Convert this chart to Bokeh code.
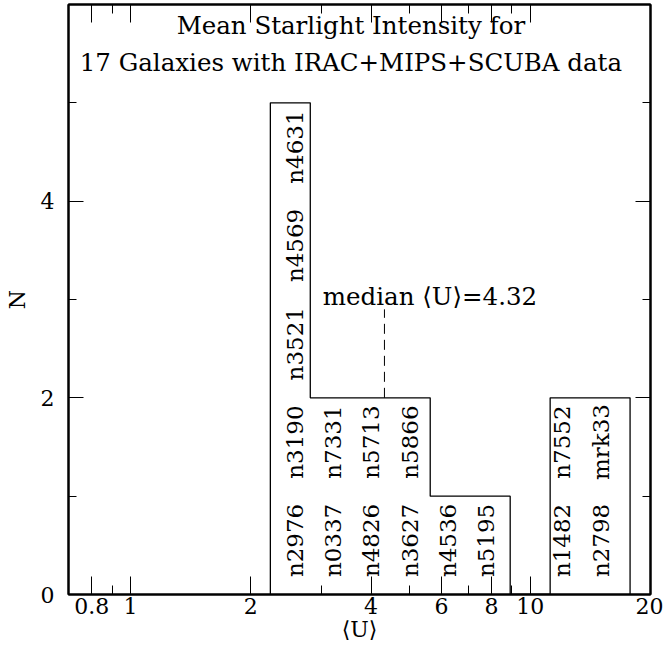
import numpy as np
from bokeh.plotting import figure
from bokeh.models import FixedTicker, LinearAxis, LogAxis, Label, ColumnDataSource
from bokeh.embed import file_html
from bokeh.resources import INLINE

# histogram of <U>, bins 0.1 dex wide
bin_edges = [2.239, 2.818, 3.548, 4.467, 5.623, 7.079, 8.913, 11.22, 14.13, 17.78]
counts = [5, 2, 2, 2, 1, 1, 0, 2, 2]
galaxies = [
    ["n2976", "n3190", "n3521", "n4569", "n4631"],
    ["n0337", "n7331"],
    ["n4826", "n5713"],
    ["n3627", "n5866"],
    ["n4536"],
    ["n5195"],
    [],
    ["n1482", "n7552"],
    ["n2798", "mrk33"],
]
median_U = 4.32

x_major = [0.8, 1, 2, 4, 6, 8, 10, 20]
x_minor = [0.9, 3, 5, 7, 9]
y_major = [0, 2, 4]
y_minor = [1, 3, 5]

title_lines = ["Mean Starlight Intensity for",
               "17 Galaxies with IRAC+MIPS+SCUBA data"]

FONT = "DejaVu Serif"
FS = "22px"

p = figure(width=663, height=659, x_axis_type="log",
           x_range=(0.7, 20), y_range=(0, 6),
           output_backend="svg", toolbar_location=None,
           min_border_left=68, min_border_right=13,
           min_border_top=4, min_border_bottom=65)
p.xgrid.visible = False
p.ygrid.visible = False
p.outline_line_color = "black"
p.outline_line_width = 2
p.background_fill_color = "white"
p.border_fill_color = "white"

xt = FixedTicker(ticks=x_major, minor_ticks=x_minor)
yt = FixedTicker(ticks=y_major, minor_ticks=y_minor)


def style_axis(ax, tick_len, minor_len, ticks, labels=True):
    ax.major_tick_in = tick_len
    ax.major_tick_out = 0
    ax.minor_tick_in = minor_len
    ax.minor_tick_out = 0
    ax.major_tick_line_color = "black"
    ax.minor_tick_line_color = "black"
    ax.major_tick_line_width = 1
    ax.minor_tick_line_width = 1
    ax.axis_line_color = "black"
    ax.axis_line_width = 2
    ax.major_label_text_font = FONT
    ax.major_label_text_color = "black"
    ax.axis_label_text_font = FONT
    ax.axis_label_text_font_style = "normal"
    ax.axis_label_text_color = "black"
    if labels:
        ax.major_label_text_font_size = FS
        ax.axis_label_text_font_size = FS
    else:
        # mirrored tick marks only, no numbers
        ax.major_label_overrides = {t: "" for t in ticks}
        ax.major_label_text_font_size = "1px"
        ax.major_label_standoff = 0


xa = p.xaxis[0]
xa.ticker = xt
xa.major_label_overrides = {0.8: "0.8"}
style_axis(xa, 18, 9, x_major)
xa.major_label_standoff = 3
xa.axis_label = "\u27e8U\u27e9"
xa.axis_label_standoff = 0

ya = p.yaxis[0]
ya.ticker = yt
style_axis(ya, 15, 8, y_major)
ya.major_label_standoff = 14
ya.major_label_orientation = "horizontal"
ya.axis_label = "N"
ya.axis_label_standoff = 8

top = LogAxis(ticker=xt)
style_axis(top, 18, 9, x_major, labels=False)
p.add_layout(top, "above")
right = LinearAxis(ticker=yt)
style_axis(right, 15, 8, y_major, labels=False)
p.add_layout(right, "right")

# step outline of the histogram
sx, sy = [bin_edges[0]], [0]
for k, c in enumerate(counts):
    sx += [bin_edges[k], bin_edges[k + 1]]
    sy += [c, c]
sx.append(bin_edges[-1])
sy.append(0)
p.line(sx, sy, line_color="black", line_width=1.3)

# galaxy names stacked vertically inside their bins
lx, ly, lt = [], [], []
log0 = np.log10(bin_edges[0])
for k, names in enumerate(galaxies):
    for i, name in enumerate(names):
        lx.append(10 ** (log0 + 0.062 + 0.0955 * k))
        ly.append(i + 0.55)
        lt.append(name)
src = ColumnDataSource(dict(x=lx, y=ly, text=lt))
p.text(x="x", y="y", text="text", source=src, angle=np.pi / 2,
       text_align="center", text_baseline="middle",
       text_font={"value": FONT}, text_font_size="23px", text_color="black")

# median marker
p.segment(x0=[median_U], y0=[2], x1=[median_U], y1=[2.9],
          line_color="black", line_width=1, line_dash="10 6")
p.add_layout(Label(x=3.03, y=3.03, text=f"median \u27e8U\u27e9={median_U:.2f}",
                   text_font=FONT, text_font_size="24.5px", text_color="black",
                   text_align="left", text_baseline="alphabetic"))

# two-line title inside the frame
for text, yy in zip(title_lines, [5.79, 5.41]):
    p.add_layout(Label(x=3.56, y=yy, text=text, text_font=FONT,
                       text_font_size="24.5px", text_color="black",
                       text_align="center", text_baseline="middle"))

open("out.html", "w").write(file_html(p, INLINE))
